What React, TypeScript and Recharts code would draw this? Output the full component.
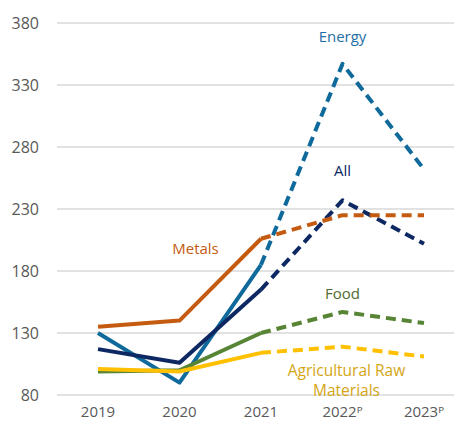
import React from 'react';
import {
  LineChart,
  Line,
  XAxis,
  YAxis,
  CartesianGrid,
  ReferenceDot,
} from 'recharts';

const YEARS = ['2019', '2020', '2021', '2022ᴾ', '2023ᴾ'];
const Y_TICKS = [80, 130, 180, 230, 280, 330, 380];

// index values (2022 and 2023 are projections)
const ENERGY = [130, 90, 185, 347, 262];
const ALL = [117, 106, 165, 237, 202];
const METALS = [135, 140, 206, 225, 225];
const FOOD = [99, 100, 130, 147, 138];
const AGRI = [101, 99, 114, 119, 111];

const SERIES = [
  { key: 'energy', values: ENERGY, color: '#0f6a9b' },
  { key: 'all', values: ALL, color: '#0d2862' },
  { key: 'metals', values: METALS, color: '#c55a11' },
  { key: 'food', values: FOOD, color: '#578535' },
  { key: 'agri', values: AGRI, color: '#ffc000' },
];

const LAST_ACTUAL = 2; // 2021 is the last actual year

// split each series into an actual (solid) and a projected (dashed) part
const data = YEARS.map((year, i) => {
  const row: Record<string, any> = { year };
  SERIES.forEach((s) => {
    row[s.key] = i <= LAST_ACTUAL ? s.values[i] : null;
    row[s.key + 'P'] = i >= LAST_ACTUAL ? s.values[i] : null;
  });
  return row;
});

const FONT = '"Open Sans", "Noto Sans", sans-serif';

const labelStyle = (fill: string, dx = 0, size = 15) => ({
  position: 'center' as const,
  fill,
  fontSize: size,
  fontFamily: FONT,
  dx,
});

export default function App() {
  return (
    <div style={{ margin: -8, width: 462, height: 426, overflow: 'hidden', background: '#fff' }}>
      <LineChart
        width={466}
        height={426}
        data={data}
        margin={{ top: 23, right: 1, left: 0, bottom: 0 }}
      >
        <CartesianGrid vertical={false} stroke="#d9d9d9" strokeWidth={1.5} />
        <XAxis
          dataKey="year"
          axisLine={false}
          tickLine={false}
          tickMargin={5}
          height={31}
          padding={{ left: 41, right: 41 }}
          tick={{ fill: '#595959', fontSize: 15, fontFamily: FONT }}
        />
        <YAxis
          domain={[80, 380]}
          ticks={Y_TICKS}
          axisLine={false}
          tickLine={false}
          width={57}
          tickMargin={12}
          tick={{ fill: '#595959', fontSize: 16, fontFamily: FONT }}
        />
        {SERIES.map((s) => (
          <Line
            key={s.key + 'P'}
            dataKey={s.key + 'P'}
            type="linear"
            stroke={s.color}
            strokeWidth={4}
            strokeDasharray="10 6"
            strokeLinejoin="round"
            dot={false}
            connectNulls={false}
            isAnimationActive={false}
          />
        ))}
        {SERIES.map((s) => (
          <Line
            key={s.key}
            dataKey={s.key}
            type="linear"
            stroke={s.color}
            strokeWidth={4}
            strokeLinejoin="round"
            dot={false}
            connectNulls={false}
            isAnimationActive={false}
          />
        ))}
        <ReferenceDot x="2022ᴾ" y={369} r={0} stroke="none" label={{ ...labelStyle('#1f6fa5'), value: 'Energy' }} />
        <ReferenceDot x="2022ᴾ" y={261} r={0} stroke="none" label={{ ...labelStyle('#0d2862'), value: 'All' }} />
        <ReferenceDot x="2020" y={198} r={0} stroke="none" label={{ ...labelStyle('#c55a11', 16), value: 'Metals' }} />
        <ReferenceDot x="2022ᴾ" y={162} r={0} stroke="none" label={{ ...labelStyle('#4e6b30'), value: 'Food' }} />
        <ReferenceDot x="2022ᴾ" y={100} r={0} stroke="none" label={{ ...labelStyle('#d4a514', 4, 15.5), value: 'Agricultural Raw' }} />
        <ReferenceDot x="2022ᴾ" y={84} r={0} stroke="none" label={{ ...labelStyle('#d4a514', 4, 15.5), value: 'Materials' }} />
      </LineChart>
    </div>
  );
}
